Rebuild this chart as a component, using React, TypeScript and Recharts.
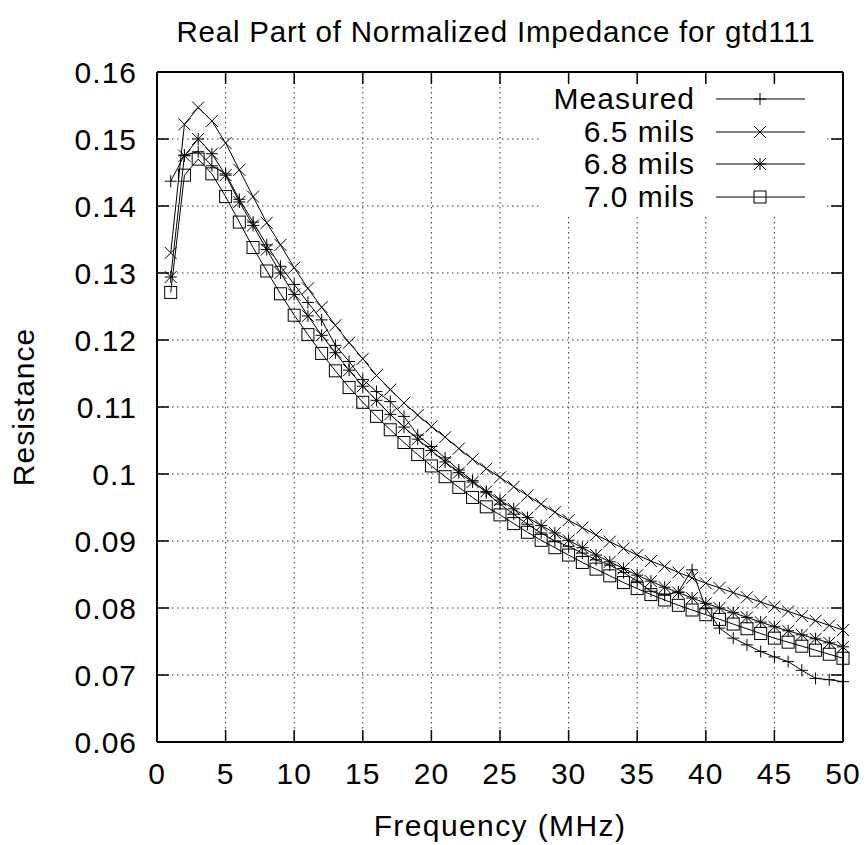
import React from "react";

//recharts
import {
  LineChart,
  Line,
  XAxis,
  YAxis,
  CartesianGrid,
  ReferenceLine,
  Legend,
} from "recharts";

//data
const freqs = [
  1, 2, 3, 4, 5, 6, 7, 8, 9, 10, 11, 12, 13, 14, 15, 16, 17, 18, 19, 20, 21,
  22, 23, 24, 25, 26, 27, 28, 29, 30, 31, 32, 33, 34, 35, 36, 37, 38, 39, 40,
  41, 42, 43, 44, 45, 46, 47, 48, 49, 50,
];

const measured = [
  0.1437, 0.1476, 0.1481, 0.146, 0.1448, 0.141, 0.1376, 0.1342, 0.131, 0.1283,
  0.1256, 0.123, 0.1192, 0.1168, 0.1141, 0.1123, 0.1108, 0.1086, 0.1058,
  0.1041, 0.1024, 0.1006, 0.099, 0.0972, 0.0955, 0.094, 0.0925, 0.0912, 0.09,
  0.0892, 0.0882, 0.0872, 0.0864, 0.0853, 0.084, 0.0825, 0.0819, 0.0824,
  0.0857, 0.08, 0.077, 0.0755, 0.0745, 0.0735, 0.0727, 0.072, 0.0707, 0.0695,
  0.0693, 0.069,
];

const mils65 = [
  0.133, 0.1522, 0.1547, 0.1527, 0.1494, 0.1454, 0.1414, 0.1375, 0.1342,
  0.1308, 0.1277, 0.1249, 0.1222, 0.1196, 0.1172, 0.1147, 0.1126, 0.1106,
  0.1088, 0.1071, 0.1055, 0.1038, 0.1022, 0.1008, 0.0995, 0.0981, 0.0968,
  0.0955, 0.0943, 0.0931, 0.092, 0.0909, 0.0899, 0.0889, 0.0879, 0.087, 0.0862,
  0.0853, 0.0845, 0.0837, 0.083, 0.0823, 0.0816, 0.0809, 0.0802, 0.0795,
  0.0788, 0.0781, 0.0774, 0.0767,
];

const mils68 = [
  0.1294, 0.1475, 0.15, 0.1478, 0.1446, 0.1406, 0.1371, 0.1335, 0.13, 0.1268,
  0.1236, 0.1207, 0.1181, 0.1155, 0.1131, 0.111, 0.1089, 0.107, 0.1052,
  0.1035, 0.1018, 0.1002, 0.0988, 0.0974, 0.0961, 0.0948, 0.0935, 0.0923,
  0.0912, 0.0901, 0.089, 0.0879, 0.0869, 0.0859, 0.0849, 0.084, 0.0831,
  0.0823, 0.0815, 0.0807, 0.08, 0.0793, 0.0786, 0.0779, 0.0772, 0.0766, 0.076,
  0.0754, 0.0748, 0.0742,
];

const mils70 = [
  0.1271, 0.1446, 0.147, 0.1448, 0.1414, 0.1376, 0.1338, 0.1303, 0.1269,
  0.1237, 0.1208, 0.118, 0.1154, 0.1129, 0.1107, 0.1086, 0.1066, 0.1047,
  0.1029, 0.1012, 0.0996, 0.098, 0.0965, 0.0951, 0.0939, 0.0926, 0.0913,
  0.0901, 0.089, 0.0879, 0.0868, 0.0858, 0.0848, 0.0838, 0.0829, 0.082, 0.0812,
  0.0804, 0.0797, 0.079, 0.0783, 0.0776, 0.0769, 0.0762, 0.0755, 0.0749,
  0.0743, 0.0737, 0.0731, 0.0725,
];

const xTicks = [0, 5, 10, 15, 20, 25, 30, 35, 40, 45, 50];
const yTicks = [0.06, 0.07, 0.08, 0.09, 0.1, 0.11, 0.12, 0.13, 0.14, 0.15, 0.16];

const data = freqs.map((f, i) => ({
  f,
  measured: measured[i],
  m65: mils65[i],
  m68: mils68[i],
  m70: mils70[i],
}));

//layout
const W = 866;
const H = 845;
const TOP = 72;
const LEFT = 157;
const RIGHT = 843;
const BOTTOM = 742;
const TICK = 12;
const FONT = "'Liberation Sans', Arial, Helvetica, sans-serif";
const FS = 30;
const LS = 1;

//markers
const S = 6;
const plus = (x: number, y: number) => (
  <>
    <line x1={x - S} y1={y} x2={x + S} y2={y} stroke="#000" />
    <line x1={x} y1={y - S} x2={x} y2={y + S} stroke="#000" />
  </>
);
const cross = (x: number, y: number) => (
  <>
    <line x1={x - S} y1={y - S} x2={x + S} y2={y + S} stroke="#000" />
    <line x1={x - S} y1={y + S} x2={x + S} y2={y - S} stroke="#000" />
  </>
);
const star = (x: number, y: number) => (
  <>
    {plus(x, y)}
    {cross(x, y)}
  </>
);
const square = (x: number, y: number) => (
  <rect x={x - S} y={y - S} width={2 * S} height={2 * S} fill="none" stroke="#000" />
);

const series = [
  { key: "measured", name: "Measured", marker: plus },
  { key: "m65", name: "6.5 mils", marker: cross },
  { key: "m68", name: "6.8 mils", marker: star },
  { key: "m70", name: "7.0 mils", marker: square },
];

const dotFor = (marker: (x: number, y: number) => React.ReactNode) => (props: any) => {
  const { cx, cy, index } = props;
  return <g key={`dot-${index}`}>{marker(cx, cy)}</g>;
};

const XTick = (props: any) => {
  const { x, payload } = props;
  return (
    <g>
      <line x1={x} y1={BOTTOM} x2={x} y2={BOTTOM - TICK} stroke="#000" strokeWidth={1.5} />
      <line x1={x} y1={TOP} x2={x} y2={TOP + TICK} stroke="#000" strokeWidth={1.5} />
      <text
        x={x}
        y={BOTTOM + 31}
        textAnchor="middle"
        dominantBaseline="central"
        fontFamily={FONT}
        fontSize={FS}
        letterSpacing={LS}
        fill="#000"
      >
        {payload.value}
      </text>
    </g>
  );
};

const YTick = (props: any) => {
  const { y, payload } = props;
  return (
    <g>
      <line x1={LEFT} y1={y} x2={LEFT + TICK} y2={y} stroke="#000" strokeWidth={1.5} />
      <line x1={RIGHT} y1={y} x2={RIGHT - TICK} y2={y} stroke="#000" strokeWidth={1.5} />
      <text
        x={LEFT - 20}
        y={y}
        textAnchor="end"
        dominantBaseline="central"
        fontFamily={FONT}
        fontSize={FS}
        letterSpacing={LS}
        fill="#000"
      >
        {String(Number(payload.value.toFixed(2)))}
      </text>
    </g>
  );
};

const YLabel = () => (
  <text
    x={23}
    y={(TOP + BOTTOM) / 2}
    transform={`rotate(-90 23 ${(TOP + BOTTOM) / 2})`}
    textAnchor="middle"
    dominantBaseline="central"
    fontFamily={FONT}
    fontSize={FS}
    letterSpacing={LS}
    fill="#000"
  >
    Resistance
  </text>
);

const XLabel = () => (
  <text
    x={(LEFT + RIGHT) / 2}
    y={825}
    textAnchor="middle"
    dominantBaseline="central"
    fontFamily={FONT}
    fontSize={FS}
    letterSpacing={1.4}
    fill="#000"
  >
    Frequency (MHz)
  </text>
);

const LegendBox = () => (
  <div
    style={{
      position: "relative",
      width: 286,
      height: 128,
      background: "#fff",
      fontFamily: FONT,
      fontSize: FS,
      letterSpacing: LS,
    }}
  >
    {series.map((s, i) => {
      const cy = 13 + i * 32.5;
      return (
        <div key={s.key}>
          <div
            style={{
              position: "absolute",
              right: 286 - 155,
              top: cy - 17,
              lineHeight: "34px",
              whiteSpace: "nowrap",
            }}
          >
            {s.name}
          </div>
          <svg
            width={100}
            height={20}
            style={{ position: "absolute", left: 170, top: cy - 10 }}
          >
            <line x1={6} y1={10} x2={95} y2={10} stroke="#000" />
            {s.marker(50, 10)}
          </svg>
        </div>
      );
    })}
  </div>
);

const App = () => {
  return (
    <div style={{ position: "absolute", left: 0, top: 0, width: W, height: H, background: "#fff" }}>
      <div
        style={{
          position: "absolute",
          left: 0,
          top: 15,
          width: 992,
          textAlign: "center",
          fontFamily: FONT,
          fontSize: 29.5,
          letterSpacing: 0.8,
          lineHeight: "34px",
          whiteSpace: "nowrap",
        }}
      >
        Real Part of Normalized Impedance for gtd111
      </div>
      <LineChart
        width={W}
        height={H}
        data={data}
        margin={{ top: TOP, right: W - RIGHT, left: LEFT - 100, bottom: H - BOTTOM - 60 }}
      >
        <CartesianGrid stroke="#333" strokeDasharray="1.5 3.5" />
        <XAxis
          dataKey="f"
          type="number"
          domain={[0, 50]}
          ticks={xTicks}
          height={60}
          tickSize={0}
          tickMargin={0}
          tickLine={false}
          axisLine={{ stroke: "#000", strokeWidth: 2 }}
          tick={<XTick />}
          interval={0}
          label={<XLabel />}
        />
        <YAxis
          type="number"
          domain={[0.06, 0.16]}
          ticks={yTicks}
          width={100}
          tickSize={0}
          tickMargin={0}
          tickLine={false}
          axisLine={{ stroke: "#000", strokeWidth: 2 }}
          tick={<YTick />}
          interval={0}
          allowDataOverflow
          label={<YLabel />}
        />
        <ReferenceLine y={0.16} stroke="#000" strokeWidth={2} />
        <ReferenceLine x={50} stroke="#000" strokeWidth={2} />
        <Legend
          layout="horizontal"
          verticalAlign="middle"
          align="center"
          content={<LegendBox />}
          wrapperStyle={{ position: "absolute", left: 540, top: 86, width: 286, height: 128 }}
        />
        {series.map((s) => (
          <Line
            key={s.key}
            type="linear"
            dataKey={s.key}
            name={s.name}
            stroke="#000"
            strokeWidth={1}
            dot={dotFor(s.marker)}
            activeDot={false}
            isAnimationActive={false}
          />
        ))}
      </LineChart>
    </div>
  );
};

export default App;
